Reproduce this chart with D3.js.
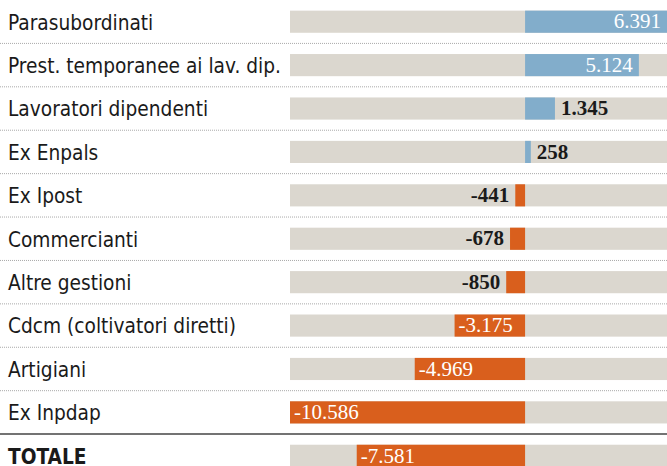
<!DOCTYPE html>
<html>
<head>
<meta charset="utf-8">
<script src="https://cdn.jsdelivr.net/npm/d3@7"></script>
<style>
  body { margin: 0; background: #fff; }
  .cat { font-family: "DejaVu Sans Condensed", "DejaVu Sans", sans-serif; font-stretch: condensed; font-size: 22px; fill: #1a1a1a; }
  .val { font-family: "Liberation Serif", "DejaVu Serif", serif; font-size: 21px; }
</style>
</head>
<body>
<div id="app"></div>
<script>
const categories = ["Parasubordinati", "Prest. temporanee ai lav. dip.", "Lavoratori dipendenti",
  "Ex Enpals", "Ex Ipost", "Commercianti", "Altre gestioni", "Cdcm (coltivatori diretti)",
  "Artigiani", "Ex Inpdap", "TOTALE"];
const values = [6391, 5124, 1345, 258, -441, -678, -850, -3175, -4969, -10586, -7581];

const width = 667, height = 466;
const it = d3.formatLocale({ decimal: ",", thousands: ".", grouping: [3], currency: ["€", ""], minus: "-" });
const fmt = it.format(",d");

const svg = d3.select("#app").append("svg")
    .attr("width", width)
    .attr("height", height);

const x = d3.scaleLinear()
    .domain([d3.min(values), d3.max(values)])
    .range([290, 667]);

const y = d3.scaleBand()
    .domain(categories)
    .range([0, 477.5])
    .paddingInner(0.49)
    .paddingOuter(0.245);

const blue = "#82adcb", orange = "#d95f1d", grey = "#dbd7cf";

// separators
categories.slice(0, -1).forEach((c, i) => {
    const yy = y(c) + y.bandwidth() + y.step() * y.paddingInner() / 2;
    const last = i === categories.length - 2;
    svg.append("line")
        .attr("x1", 0).attr("x2", width)
        .attr("y1", yy).attr("y2", yy)
        .attr("stroke", last ? "#444" : "#aaa")
        .attr("stroke-width", last ? 1.5 : 1)
        .attr("stroke-dasharray", last ? null : "1,1");
});

const row = svg.selectAll("g.row")
    .data(categories.map((c, i) => ({ c, v: values[i] })))
    .join("g")
    .attr("class", "row")
    .attr("transform", d => `translate(0,${y(d.c)})`);

row.append("rect")
    .attr("x", x.range()[0])
    .attr("width", x.range()[1] - x.range()[0])
    .attr("height", y.bandwidth())
    .attr("fill", grey);

row.append("rect")
    .attr("x", d => x(Math.min(0, d.v)))
    .attr("width", d => Math.abs(x(d.v) - x(0)))
    .attr("height", y.bandwidth())
    .attr("fill", d => d.v >= 0 ? blue : orange);

// squeeze the condensed labels a bit more, they are taller in the original
row.append("text")
    .attr("class", "cat")
    .attr("transform", `translate(8,${y.bandwidth() / 2}) scale(0.94,1)`)
    .attr("dy", "0.36em")
    .style("font-weight", d => d.c === "TOTALE" ? "bold" : null)
    .text(d => d.c);

row.append("text")
    .attr("class", "val")
    .attr("y", y.bandwidth() / 2)
    .attr("dy", "0.32em")
    .each(function (d) {
        const w = Math.abs(x(d.v) - x(0));
        const inside = w > 60;
        const t = d3.select(this).text(fmt(d.v));
        if (inside) {
            t.attr("fill", "#fff")
             .attr("x", d.v >= 0 ? x(d.v) - 6 : x(d.v) + 4)
             .attr("text-anchor", d.v >= 0 ? "end" : "start");
        } else {
            t.attr("fill", "#1a1a1a")
             .style("font-weight", "bold")
             .attr("x", d.v >= 0 ? x(d.v) + 6 : x(d.v) - 6)
             .attr("text-anchor", d.v >= 0 ? "start" : "end");
        }
    });
</script>
</body>
</html>
